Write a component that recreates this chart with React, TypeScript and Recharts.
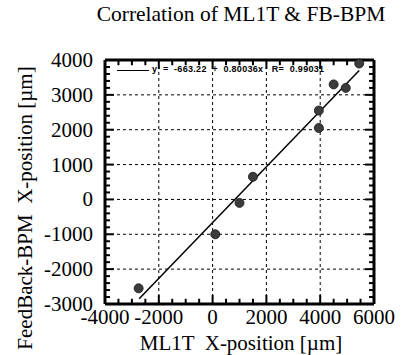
import { ScatterChart, Scatter, XAxis, YAxis, CartesianGrid, ReferenceLine } from 'recharts'

const ml1tX = [-2750, 100, 1000, 1500, 3950, 3950, 4500, 4950, 5450]
const fbBpmX = [-2550, -1000, -100, 650, 2550, 2050, 3300, 3200, 3900]

// ends of the fitted line
const fitX = [-2730, 5450]
const fitY = [-2850, 3700]

const xTicks = [-4000, -2000, 0, 2000, 4000, 6000]
const yTicks = [-3000, -2000, -1000, 0, 1000, 2000, 3000, 4000]
const xMinorTicks = [-3500, -3000, -2500, -1500, -1000, -500, 500, 1000, 1500, 2500, 3000, 3500, 4500, 5000, 5500]
const yMinorTicks = [
  -2800, -2600, -2400, -2200, -1800, -1600, -1400, -1200, -800, -600, -400, -200,
  200, 400, 600, 800, 1200, 1400, 1600, 1800, 2200, 2400, 2600, 2800, 3200, 3400, 3600, 3800
]

const points = ml1tX.map((x, i) => ({ x, y: fbBpmX[i] }))
const fitLine = fitX.map((x, i) => ({ x, y: fitY[i] }))

const SERIF = '"Liberation Serif", "Times New Roman", serif'
const X_DOMAIN: [number, number] = [-4000, 6000]
const Y_DOMAIN: [number, number] = [-3000, 4000]
const frame = { stroke: '#000', strokeWidth: 3 }

// tick lengths in data units (about 5px / 9px on screen)
const X_MINOR = 185, X_MAJOR = 330
const Y_MINOR = 150, Y_MAJOR = 260

const Dot = (props: any) => (
  <circle cx={props.cx} cy={props.cy} r={4.5} fill="#3c3c3c" stroke="#111" strokeWidth={0.8} />
)

const XTick = (props: any) => (
  <text x={props.x} y={props.y} dy={12} textAnchor="middle" style={{ fontFamily: SERIF, fontSize: 21 }} fill="#000">
    {props.payload.value}
  </text>
)

const YTick = (props: any) => (
  <text x={props.x} y={props.y} dy={7} textAnchor="end" style={{ fontFamily: SERIF, fontSize: 21 }} fill="#000">
    {props.payload.value}
  </text>
)

const NoShape = () => <g />

const xMarks = [
  ...xMinorTicks.map(v => ({ v, len: Y_MINOR })),
  ...xTicks.map(v => ({ v, len: Y_MAJOR })),
]
const yMarks = [
  ...yMinorTicks.map(v => ({ v, len: X_MINOR })),
  ...yTicks.map(v => ({ v, len: X_MAJOR })),
]

export default function App() {
  return (
    <div style={{ position: 'absolute', left: 0, top: 0, width: 402, height: 355, background: '#fff' }}>
      <ScatterChart width={402} height={355} margin={{ top: 60, right: 28, bottom: 21, left: 0 }}>
        <CartesianGrid stroke="#000" strokeDasharray="3 3" strokeWidth={1} />
        <XAxis
          type="number"
          dataKey="x"
          domain={X_DOMAIN}
          ticks={xTicks}
          height={30}
          axisLine={frame}
          tickLine={false}
          tickMargin={2}
          tick={XTick}
          interval={0}
        />
        <YAxis
          type="number"
          dataKey="y"
          domain={Y_DOMAIN}
          ticks={yTicks}
          width={105}
          axisLine={frame}
          tickLine={false}
          tickMargin={6}
          tick={YTick}
          interval={0}
        />

        {/* frame top and right */}
        <ReferenceLine y={4000} stroke="#000" strokeWidth={3} />
        <ReferenceLine x={6000} stroke="#000" strokeWidth={3} />

        {/* inward tick marks on all four sides */}
        {xMarks.map(m => (
          <ReferenceLine key={`b${m.v}`} segment={[{ x: m.v, y: -3000 }, { x: m.v, y: -3000 + m.len }]} stroke="#000" strokeWidth={2} />
        ))}
        {xMarks.map(m => (
          <ReferenceLine key={`t${m.v}`} segment={[{ x: m.v, y: 4000 }, { x: m.v, y: 4000 - m.len }]} stroke="#000" strokeWidth={2} />
        ))}
        {yMarks.map(m => (
          <ReferenceLine key={`l${m.v}`} segment={[{ x: -4000, y: m.v }, { x: -4000 + m.len, y: m.v }]} stroke="#000" strokeWidth={2} />
        ))}
        {yMarks.map(m => (
          <ReferenceLine key={`r${m.v}`} segment={[{ x: 6000, y: m.v }, { x: 6000 - m.len, y: m.v }]} stroke="#000" strokeWidth={2} />
        ))}

        <Scatter
          data={fitLine}
          line={{ stroke: '#000', strokeWidth: 1.5 }}
          shape={NoShape}
          isAnimationActive={false}
        />
        <Scatter data={points} shape={Dot} isAnimationActive={false} />
      </ScatterChart>

      {/* title */}
      <div style={{ position: 'absolute', left: 91, width: 300, top: 2, textAlign: 'center', fontFamily: SERIF, fontSize: 21.5, color: '#000', whiteSpace: 'pre' }}>
        Correlation of ML1T &amp; FB-BPM
      </div>

      {/* fit legend */}
      <div style={{ position: 'absolute', left: 117, top: 70, width: 32, borderTop: '1px solid #000' }} />
      <div style={{ position: 'absolute', left: 152, top: 64, fontFamily: 'Arial, "Liberation Sans", sans-serif', fontSize: 9, fontWeight: 'bold', color: '#000', whiteSpace: 'pre', letterSpacing: 0.3 }}>
        {'y  =  -663.22  +  0.80036x   R=  0.99031'}
      </div>

      {/* axis titles */}
      <div style={{ position: 'absolute', left: 91, width: 300, top: 331, textAlign: 'center', fontFamily: SERIF, fontSize: 21, color: '#000', whiteSpace: 'pre' }}>
        {'ML1T  X-position [µm]'}
      </div>
      <div style={{
        position: 'absolute', left: 25, top: 208, width: 320, textAlign: 'center', fontFamily: SERIF, fontSize: 21,
        color: '#000', whiteSpace: 'pre', transform: 'translate(-50%, -50%) rotate(-90deg)'
      }}>
        {'FeedBack-BPM  X-position [µm]'}
      </div>
    </div>
  )
}
